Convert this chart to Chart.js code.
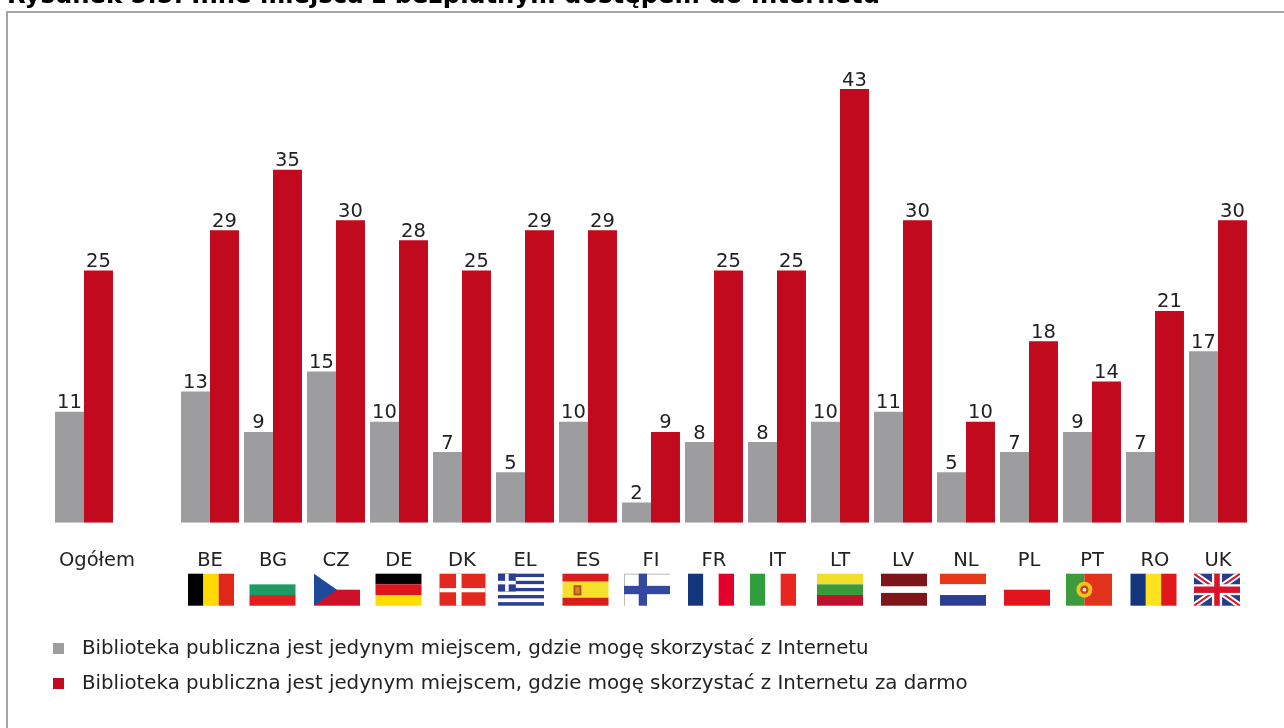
<!DOCTYPE html>
<html lang="pl"><head><meta charset="utf-8">
<style>
html,body{margin:0;padding:0;background:#fff;overflow:hidden;width:1284px;height:728px}
#c{position:absolute;left:0;top:-14px}
#frame{position:absolute;left:6px;top:11px;width:1290px;height:730px;border-left:2px solid #a6a6a6;border-top:2px solid #a6a6a6}
</style>
<script src="https://cdn.jsdelivr.net/npm/chart.js@4"></script>
</head><body>
<div id="frame"></div>
<canvas id="c" width="1284" height="742"></canvas>
<script>
const titleText = "Rysunek 5.5. Inne miejsca z bezpłatnym dostępem do Internetu";
const categories = ["Ogółem","","BE","BG","CZ","DE","DK","EL","ES","FI","FR","IT","LT","LV","NL","PL","PT","RO","UK"];
const onlyPlace  = [11,null,13,9,15,10,7,5,10,2,8,8,10,11,5,7,9,7,17];
const onlyFree   = [25,null,29,35,30,28,25,29,29,9,25,25,43,30,10,18,14,21,30];
const labelOnly = "Biblioteka publiczna jest jedynym miejscem, gdzie mogę skorzystać z Internetu";
const labelFree = "Biblioteka publiczna jest jedynym miejscem, gdzie mogę skorzystać z Internetu za darmo";
const GRAY="#9d9d9f", RED="#c20a1e", INK="#222222", FONT="'DejaVu Sans'";

/* legend marker: small square with a transparent tail, giving the wide gap before the text */
function marker(col){const k=document.createElement('canvas');k.width=19;k.height=11;const x=k.getContext('2d');x.fillStyle=col;x.fillRect(0,0,11,11);return k;}

function stripes(ctx,x,y,w,h,dir,cols,fr){
  let p=0;const tot=fr?fr.reduce((a,b)=>a+b,0):cols.length;
  cols.forEach((c,i)=>{const f=(fr?fr[i]:1)/tot;ctx.fillStyle=c;
    if(dir==='v')ctx.fillRect(x+p*w,y,f*w,h);else ctx.fillRect(x,y+p*h,w,f*h);p+=f;});
}
const flags={
 BE:(c,x,y,w,h)=>stripes(c,x,y,w,h,'v',["#000000","#ffd900","#e1261c"]),
 BG:(c,x,y,w,h)=>stripes(c,x,y,w,h,'h',["#ffffff","#1e9b62","#e21d1d"]),
 CZ:(c,x,y,w,h)=>{stripes(c,x,y,w,h,'h',["#ffffff","#cf1029"]);c.fillStyle="#1f4a9c";c.beginPath();c.moveTo(x,y);c.lineTo(x+w*.5,y+h/2);c.lineTo(x,y+h);c.fill();},
 DE:(c,x,y,w,h)=>stripes(c,x,y,w,h,'h',["#000000","#e0141c","#ffdd00"]),
 DK:(c,x,y,w,h)=>{c.fillStyle="#e3291f";c.fillRect(x,y,w,h);c.fillStyle="#fff";c.fillRect(x+w*.36,y,w*.12,h);c.fillRect(x,y+h*.45,w,h*.13);},
 EL:(c,x,y,w,h)=>{const B="#2c3e93";for(let i=0;i<9;i++){c.fillStyle=i%2?"#fff":B;c.fillRect(x,y+i*h/9,w,h/9);}
   const s=h*5/9;c.fillStyle=B;c.fillRect(x,y,s,s);c.fillStyle="#fff";c.fillRect(x+s*.4,y,s*.2,s);c.fillRect(x,y+s*.4,s,s*.2);},
 ES:(c,x,y,w,h)=>{stripes(c,x,y,w,h,'h',["#d91c1c","#f5e12b","#d91c1c"],[1,2,1]);c.fillStyle="#b5501c";c.fillRect(x+w*.24,y+h*.36,w*.17,h*.32);c.fillStyle="#d4891f";c.fillRect(x+w*.28,y+h*.42,w*.09,h*.2);},
 FI:(c,x,y,w,h)=>{c.fillStyle="#fff";c.fillRect(x,y,w,h);c.fillStyle="#bbb";c.fillRect(x,y,w,1);c.fillRect(x,y,1,h);c.fillStyle="#33489e";c.fillRect(x+w*.32,y,w*.18,h);c.fillRect(x,y+h*.38,w,h*.26);},
 FR:(c,x,y,w,h)=>stripes(c,x,y,w,h,'v',["#14367f","#ffffff","#e4002b"]),
 IT:(c,x,y,w,h)=>stripes(c,x,y,w,h,'v',["#2f9e3c","#ffffff","#e6261f"]),
 LT:(c,x,y,w,h)=>stripes(c,x,y,w,h,'h',["#f2df2a","#3a9b3c","#c0102c"]),
 LV:(c,x,y,w,h)=>stripes(c,x,y,w,h,'h',["#7d151b","#ffffff","#7d151b"],[2,1,2]),
 NL:(c,x,y,w,h)=>stripes(c,x,y,w,h,'h',["#e8381a","#ffffff","#2c3e93"]),
 PL:(c,x,y,w,h)=>{stripes(c,x,y,w,h,'h',["#ffffff","#e0161c"]);},
 PT:(c,x,y,w,h)=>{stripes(c,x,y,w,h,'v',["#3e9b3d","#e3321c"],[2,3]);c.fillStyle="#f0c419";c.beginPath();c.arc(x+w*.4,y+h/2,h*.25,0,7);c.fill();c.fillStyle="#c8401c";c.beginPath();c.arc(x+w*.4,y+h/2,h*.13,0,7);c.fill();c.fillStyle="#eee";c.beginPath();c.arc(x+w*.4,y+h/2,h*.06,0,7);c.fill();},
 RO:(c,x,y,w,h)=>stripes(c,x,y,w,h,'v',["#14367f","#ffe21f","#e2171c"]),
 UK:(c,x,y,w,h)=>{c.fillStyle="#2a3a8c";c.fillRect(x,y,w,h);c.save();c.beginPath();c.rect(x,y,w,h);c.clip();
   c.strokeStyle="#fff";c.lineWidth=6;c.beginPath();c.moveTo(x,y);c.lineTo(x+w,y+h);c.moveTo(x+w,y);c.lineTo(x,y+h);c.stroke();
   c.strokeStyle="#d8142a";c.lineWidth=2;c.beginPath();c.moveTo(x,y);c.lineTo(x+w,y+h);c.moveTo(x+w,y);c.lineTo(x,y+h);c.stroke();c.restore();
   c.fillStyle="#fff";c.fillRect(x+w*.39,y,w*.22,h);c.fillRect(x,y+h*.33,w,h*.34);c.fillStyle="#d8142a";c.fillRect(x+w*.44,y,w*.12,h);c.fillRect(x,y+h*.4,w,h*.2);}
};
const flagShift={BE:1,BG:-.5,CZ:1,DE:-.5,DK:.5,EL:-4,ES:-2.5,FI:-4,FR:-3,IT:-4,LT:0,LV:1,NL:-3,PL:-2,PT:-3,RO:-1.5,UK:-1};

const decor={
  id:'decor',
  beforeDraw(ch){
    ch.titleBlock.left=7;
    const it=ch.scales.x.getLabelItems()[0];
    if(it&&!it.moved){it.options.translation[0]+=13;it.moved=true;}
  },
  afterDraw(ch){
    const c=ch.ctx,sx=ch.scales.x;
    c.save();c.textAlign='center';c.textBaseline='alphabetic';c.fillStyle=INK;c.font="19.5px "+FONT;
    ch.data.datasets.forEach((d,di)=>{
      ch.getDatasetMeta(di).data.forEach((el,i)=>{
        if(d.data[i]==null)return;
        c.fillText(String(d.data[i]),el.x,el.y-3.5);
      });
    });
    categories.forEach((n,i)=>{
      if(!flags[n])return;
      const w=46,h=32,x=sx.getPixelForValue(i)+flagShift[n]-w/2,y=sx.top+51;
      flags[n](c,x,y,w,h);
    });
    c.restore();
  }
};

new Chart(document.getElementById('c'),{
  type:'bar',
  plugins:[decor],
  data:{labels:categories,datasets:[
    {label:labelOnly,data:onlyPlace,backgroundColor:GRAY,categoryPercentage:.92,barPercentage:1},
    {label:labelFree,data:onlyFree,backgroundColor:RED,categoryPercentage:.92,barPercentage:1}
  ]},
  options:{
    responsive:false,animation:false,
    layout:{padding:{left:37.8,right:34.5,top:0,bottom:24.3}},
    scales:{
      x:{grid:{display:false},border:{display:false},
         ticks:{color:INK,font:{family:FONT,size:19.5},padding:19,autoSkip:false,maxRotation:0,minRotation:0},
         afterFit(s){s.height=101;}},
      y:{min:0,max:50,grid:{display:false},border:{display:false},ticks:{display:false},afterFit(s){s.width=14.7;}}
    },
    plugins:{
      tooltip:{enabled:false},
      title:{display:true,text:titleText,align:'start',color:'#000',font:{family:FONT,size:24.3,weight:'bold'},padding:{top:-4,bottom:7.3}},
      legend:{position:'bottom',align:'start',
        labels:{usePointStyle:true,pointStyleWidth:19,boxHeight:11,padding:15.2,color:INK,font:{family:FONT,size:19.8},
          generateLabels(ch){return ch.data.datasets.map((d,i)=>({text:d.label,fillStyle:d.backgroundColor,lineWidth:0,strokeStyle:'transparent',datasetIndex:i,pointStyle:marker(d.backgroundColor),fontColor:INK}));}
        }
      }
    }
  }
});
</script>
</body></html>
